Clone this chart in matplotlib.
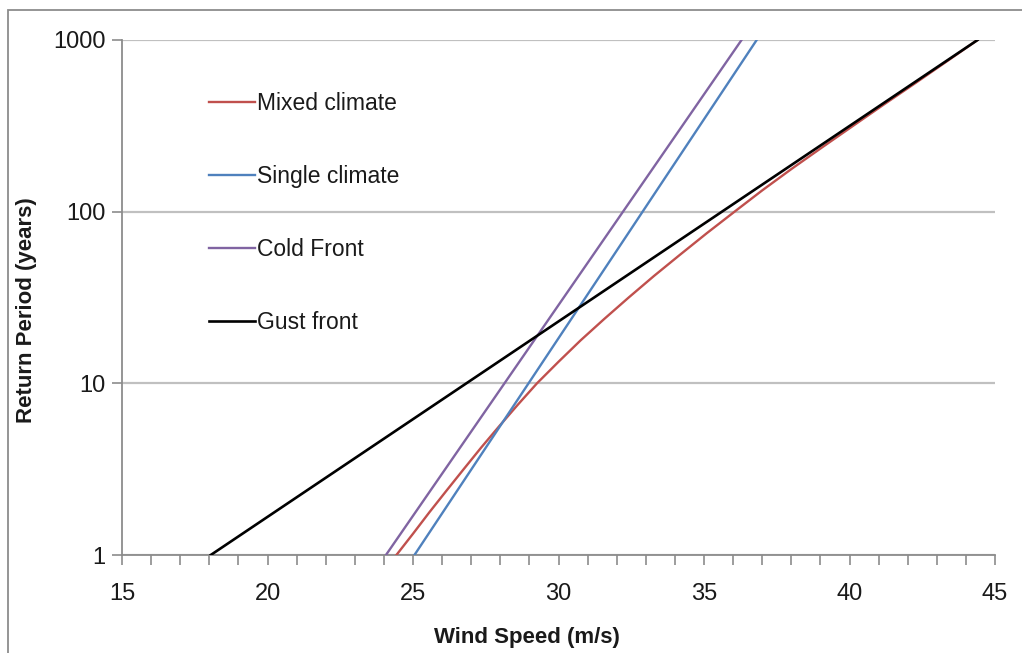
import matplotlib
matplotlib.use("Agg")
import matplotlib.pyplot as plt
from matplotlib.ticker import MultipleLocator, FixedLocator
from matplotlib.patches import Rectangle

plt.rcParams['font.family'] = ['Liberation Sans', 'DejaVu Sans']

# ---- data ----
mixed_speed = [24.43, 25.0, 25.57, 26.15, 26.74, 27.34, 27.96, 28.6, 29.26, 29.99, 30.76,
               31.57, 32.41, 33.28, 34.18, 35.1, 36.05, 37.0, 38.02, 39.06, 40.12,
               41.19, 42.27, 43.34, 44.4]
mixed_rp = [1, 1.33, 1.78, 2.37, 3.16, 4.22, 5.62, 7.5, 10, 13.3, 17.8, 23.7, 31.6, 42.2,
            56.2, 75, 100, 133, 178, 237, 316, 422, 562, 750, 1000]
single_speed = [25.05, 36.81]
single_rp = [1, 1000]
cold_speed = [24.07, 36.29]
cold_rp = [1, 1000]
gust_speed = [18.05, 44.4]
gust_rp = [1, 1000]
x_ticks = [15, 20, 25, 30, 35, 40, 45]
y_ticks = [1, 10, 100, 1000]
y_tick_labels = ['1', '10', '100', '1000']

W, H = 1022, 653
fig = plt.figure(figsize=(W / 100, H / 100), dpi=100)
fig.patch.set_facecolor('white')

# chart frame
fig.add_artist(Rectangle((8 / W, -0.1), 1.2, (H - 10) / H + 0.1, transform=fig.transFigure,
                         fill=False, edgecolor='#8c8c8c', linewidth=1.3))

ax = fig.add_axes([122 / W, 1 - 555 / H, 873 / W, 515 / H])
ax.set_yscale('log')
ax.set_xlim(15, 45)
ax.set_ylim(1, 1000)

grid_c = '#c0c0c0'
axis_c = '#8c8c8c'

ax.plot(mixed_speed, mixed_rp, color='#C0504D', lw=1.7, label='Mixed climate', zorder=3)
ax.plot(single_speed, single_rp, color='#4F81BD', lw=1.7, label='Single climate', zorder=3)
ax.plot(cold_speed, cold_rp, color='#8064A2', lw=1.7, label='Cold Front', zorder=3)
ax.plot(gust_speed, gust_rp, color='black', lw=1.9, label='Gust front', zorder=4)

ax.yaxis.set_major_locator(FixedLocator(y_ticks))
ax.yaxis.set_minor_locator(FixedLocator([]))
ax.set_yticklabels(y_tick_labels)
ax.xaxis.set_major_locator(FixedLocator(x_ticks))
ax.xaxis.set_minor_locator(MultipleLocator(1))

ax.grid(axis='y', which='major', color=grid_c, lw=1.6)
ax.set_axisbelow(True)
for s in ['top', 'right']:
    ax.spines[s].set_visible(False)
for s in ['left', 'bottom']:
    ax.spines[s].set_color(axis_c)
    ax.spines[s].set_linewidth(1.3)

ax.tick_params(axis='both', which='both', direction='out', color=axis_c, width=1.2,
               labelsize=17, labelcolor='#1a1a1a')
ax.tick_params(axis='x', which='both', length=7, pad=13)
ax.tick_params(axis='y', which='major', length=7, pad=5)

leg = ax.legend(loc='upper left', bbox_to_anchor=(78 / 873, 1 - 43 / 515), frameon=False,
                fontsize=16.5, handlelength=2.0, handletextpad=0.1, labelspacing=2.18,
                borderaxespad=0)
for t in leg.get_texts():
    t.set_color('#1a1a1a')

fig.text(527 / W, 1 - 638 / H, 'Wind Speed (m/s)', ha='center', va='center',
         fontsize=16, fontweight='bold', color='#1a1a1a')
fig.text(27 / W, 1 - 310 / H, 'Return Period (years)', ha='center', va='center',
         rotation=90, fontsize=16, fontweight='bold', color='#1a1a1a')

fig.savefig('out.png', dpi=100, facecolor='white')
